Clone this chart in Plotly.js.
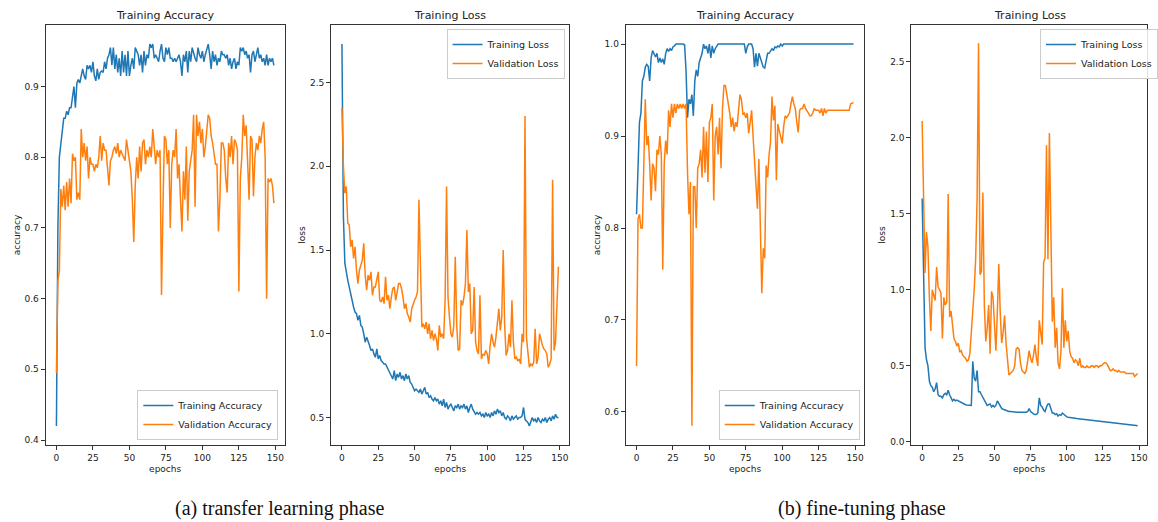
<!DOCTYPE html>
<html><head><meta charset="utf-8">
<script src="https://cdn.plot.ly/plotly-3.0.1.min.js"></script>
<style>html,body{margin:0;padding:0;background:#fff;}#chart{width:1158px;height:522px;}</style>
</head><body><div id="chart"></div>
<script>
// (a) transfer learning phase
const trainAccA = [
0.42,0.70,0.80,0.82,0.84,0.855,0.855,0.865,0.86,0.87,
0.87,0.89,0.90,0.87,0.905,0.91,0.905,0.915,0.925,0.915,
0.91,0.93,0.925,0.93,0.92,0.935,0.915,0.908,0.925,0.91,
0.92,0.922,0.92,0.935,0.925,0.94,0.945,0.955,0.93,0.955,
0.925,0.945,0.92,0.94,0.915,0.95,0.92,0.945,0.915,0.95,
0.915,0.93,0.94,0.925,0.955,0.95,0.945,0.93,0.945,0.92,
0.95,0.93,0.945,0.94,0.96,0.955,0.96,0.94,0.945,0.94,
0.935,0.95,0.96,0.94,0.935,0.955,0.945,0.955,0.94,0.94,
0.935,0.94,0.935,0.94,0.945,0.935,0.915,0.945,0.935,0.95,
0.92,0.95,0.935,0.955,0.945,0.94,0.935,0.955,0.945,0.94,
0.95,0.935,0.945,0.955,0.96,0.945,0.925,0.95,0.935,0.945,
0.93,0.94,0.935,0.95,0.945,0.945,0.94,0.945,0.93,0.94,
0.925,0.935,0.94,0.925,0.935,0.93,0.955,0.95,0.955,0.945,
0.95,0.94,0.945,0.92,0.945,0.95,0.935,0.945,0.955,0.94,
0.945,0.935,0.94,0.93,0.945,0.93,0.94,0.935,0.94,0.93];
const valAccA = [
0.495,0.625,0.64,0.755,0.73,0.76,0.725,0.765,0.73,0.77,
0.735,0.805,0.795,0.80,0.74,0.75,0.74,0.84,0.80,0.82,
0.795,0.815,0.77,0.80,0.79,0.79,0.78,0.79,0.785,0.80,
0.83,0.795,0.82,0.81,0.81,0.79,0.76,0.795,0.80,0.81,
0.815,0.805,0.82,0.80,0.81,0.805,0.80,0.795,0.825,0.81,
0.80,0.78,0.74,0.68,0.76,0.80,0.77,0.815,0.78,0.82,
0.825,0.79,0.81,0.80,0.815,0.80,0.84,0.82,0.79,0.81,
0.80,0.81,0.605,0.73,0.83,0.825,0.79,0.81,0.70,0.79,
0.81,0.80,0.84,0.77,0.79,0.74,0.695,0.78,0.74,0.815,
0.71,0.78,0.80,0.81,0.86,0.73,0.86,0.83,0.85,0.82,
0.84,0.80,0.815,0.84,0.86,0.855,0.83,0.82,0.80,0.79,
0.79,0.695,0.74,0.82,0.82,0.81,0.77,0.75,0.82,0.80,
0.83,0.79,0.825,0.82,0.81,0.61,0.77,0.80,0.86,0.83,
0.845,0.80,0.74,0.83,0.825,0.745,0.80,0.82,0.81,0.83,
0.82,0.84,0.85,0.80,0.60,0.77,0.765,0.77,0.76,0.735];
const trainLossA = [
2.73,1.70,1.42,1.36,1.32,1.28,1.24,1.18,1.16,1.13,
1.12,1.08,1.11,1.05,1.04,1.00,0.95,0.98,0.96,0.93,
0.90,0.91,0.88,0.86,0.91,0.85,0.87,0.84,0.83,0.82,
0.82,0.80,0.79,0.77,0.75,0.73,0.78,0.72,0.76,0.74,
0.77,0.73,0.75,0.72,0.76,0.73,0.75,0.71,0.70,0.68,
0.66,0.67,0.66,0.65,0.67,0.64,0.66,0.68,0.64,0.65,
0.62,0.63,0.61,0.60,0.62,0.60,0.61,0.58,0.60,0.57,
0.61,0.56,0.59,0.55,0.57,0.58,0.56,0.54,0.57,0.56,
0.58,0.55,0.57,0.56,0.58,0.55,0.57,0.53,0.56,0.58,
0.55,0.53,0.52,0.53,0.52,0.53,0.51,0.52,0.50,0.53,
0.51,0.52,0.50,0.53,0.51,0.54,0.52,0.55,0.53,0.54,
0.51,0.53,0.50,0.49,0.51,0.50,0.48,0.51,0.49,0.50,
0.51,0.49,0.50,0.50,0.51,0.56,0.49,0.48,0.47,0.45,
0.47,0.50,0.48,0.49,0.47,0.50,0.48,0.47,0.49,0.48,
0.50,0.47,0.49,0.50,0.48,0.51,0.49,0.52,0.50,0.50];
const valLossA = [
2.35,2.00,1.84,1.88,1.66,1.65,1.52,1.56,1.45,1.52,
1.38,1.30,1.38,1.42,1.44,1.54,1.35,1.26,1.35,1.32,
1.37,1.23,1.28,1.28,1.33,1.37,1.20,1.19,1.22,1.18,
1.34,1.20,1.23,1.15,1.22,1.27,1.28,1.20,1.25,1.30,
1.30,1.27,1.22,1.15,1.18,1.12,1.10,1.07,1.15,1.18,
1.20,1.22,1.25,1.80,1.30,1.04,1.06,1.03,1.07,1.00,
1.06,0.97,1.02,0.96,1.00,0.97,0.90,1.05,0.98,1.00,
0.97,1.20,1.88,1.22,1.10,1.00,0.98,1.05,1.46,1.05,
0.90,0.91,1.20,1.17,1.22,1.30,1.62,1.25,1.30,1.00,
1.02,1.28,0.95,0.90,0.88,1.23,0.85,0.88,0.87,0.90,
0.88,0.82,0.93,1.00,0.95,0.92,0.98,1.05,1.15,1.02,
1.10,1.50,1.05,0.87,0.90,1.00,0.92,1.20,0.95,0.85,
0.86,0.84,0.85,0.82,1.00,0.95,2.30,0.98,0.88,0.80,
0.82,0.81,0.83,1.03,0.82,0.86,1.00,0.96,0.93,0.91,
0.90,0.88,0.80,0.82,0.85,1.92,0.90,0.95,1.15,1.40];
// (b) fine-tuning phase
const trainAccB = [
0.815,0.88,0.915,0.925,0.96,0.965,0.975,0.978,0.976,0.96,
0.985,0.993,0.99,0.986,0.99,0.98,0.985,0.98,0.984,0.978,
0.99,0.995,0.992,0.995,0.993,0.997,0.998,1,1,1,
1,1,1,0.999,0.97,0.92,0.94,0.935,0.945,0.922,
0.96,0.972,0.965,0.98,0.985,0.99,1,0.995,0.998,0.99,
1,0.985,0.998,0.99,0.995,0.998,1,1,1,1,
1,1,1,1,1,1,1,1,1,1,
1,1,1,1,1,0.99,0.997,1,1,1,
0.995,0.975,0.99,0.976,0.99,0.986,0.98,0.975,0.974,0.982,
0.99,0.99,0.993,0.995,0.993,0.997,0.996,0.998,0.997,1,
0.998,1,1,1,1,1,1,1,1,1,
1,1,1,1,1,1,1,1,1,1,
1,1,1,1,1,1,1,1,1,1,
1,1,1,1,1,1,1,1,1,1,
1,1,1,1,1,1,1,1,1,1];
const valAccB = [
0.65,0.81,0.815,0.80,0.80,0.88,0.94,0.89,0.90,0.87,
0.83,0.87,0.865,0.84,0.885,0.88,0.90,0.88,0.755,0.87,
0.895,0.88,0.928,0.91,0.935,0.92,0.935,0.925,0.935,0.93,
0.935,0.93,0.935,0.93,0.935,0.86,0.815,0.85,0.585,0.845,
0.845,0.80,0.865,0.87,0.885,0.855,0.91,0.86,0.905,0.85,
0.915,0.92,0.935,0.83,0.90,0.91,0.88,0.92,0.865,0.93,
0.955,0.955,0.945,0.94,0.925,0.91,0.92,0.905,0.915,0.91,
0.925,0.945,0.94,0.924,0.925,0.92,0.925,0.903,0.915,0.928,
0.90,0.875,0.85,0.821,0.875,0.80,0.729,0.778,0.767,0.868,
0.855,0.88,0.894,0.943,0.917,0.933,0.852,0.913,0.905,0.90,
0.892,0.91,0.922,0.92,0.922,0.925,0.935,0.943,0.935,0.93,
0.915,0.904,0.928,0.93,0.93,0.935,0.93,0.928,0.925,0.922,
0.922,0.925,0.93,0.928,0.928,0.928,0.925,0.93,0.922,0.93,
0.925,0.928,0.928,0.928,0.928,0.928,0.928,0.928,0.928,0.928,
0.928,0.928,0.928,0.928,0.928,0.928,0.928,0.935,0.936,0.936];
const trainLossB = [
1.60,0.95,0.62,0.54,0.50,0.40,0.37,0.36,0.33,0.35,
0.39,0.31,0.30,0.30,0.29,0.31,0.32,0.31,0.34,0.31,
0.29,0.27,0.28,0.27,0.275,0.27,0.26,0.255,0.25,0.245,
0.245,0.243,0.242,0.24,0.24,0.53,0.42,0.40,0.47,0.33,
0.33,0.31,0.29,0.27,0.25,0.24,0.245,0.25,0.23,0.24,
0.23,0.24,0.27,0.25,0.23,0.22,0.215,0.21,0.205,0.205,
0.20,0.20,0.20,0.198,0.197,0.196,0.196,0.195,0.195,0.194,
0.193,0.192,0.195,0.20,0.22,0.20,0.19,0.185,0.18,0.18,
0.19,0.29,0.24,0.23,0.21,0.20,0.23,0.25,0.25,0.21,
0.19,0.19,0.18,0.185,0.17,0.18,0.175,0.19,0.18,0.17,
0.165,0.162,0.16,0.158,0.157,0.156,0.155,0.154,0.153,0.152,
0.151,0.150,0.149,0.148,0.147,0.146,0.145,0.144,0.143,0.142,
0.141,0.140,0.139,0.138,0.137,0.136,0.135,0.134,0.133,0.132,
0.131,0.130,0.129,0.128,0.127,0.126,0.125,0.124,0.122,0.121,
0.120,0.119,0.118,0.116,0.115,0.114,0.112,0.110,0.108,0.106];
const valLossB = [
2.11,1.45,1.11,1.38,1.28,0.95,0.73,1.00,0.97,0.93,
1.15,1.02,1.00,0.98,0.68,0.95,0.90,0.92,1.63,0.82,
0.86,0.78,0.68,0.66,0.63,0.65,0.59,0.60,0.57,0.56,
0.55,0.53,0.54,0.58,0.70,0.83,1.00,1.20,1.60,2.62,
1.10,1.12,1.64,0.90,0.66,0.75,0.90,0.58,0.99,0.95,
0.75,0.60,0.85,1.17,0.85,0.65,0.72,0.83,0.65,0.55,
0.44,0.45,0.46,0.47,0.50,0.61,0.62,0.61,0.52,0.47,
0.46,0.45,0.47,0.55,0.60,0.55,0.52,0.57,0.64,0.55,
0.50,0.80,0.70,0.64,1.18,1.21,1.95,1.20,2.03,1.25,
0.79,0.95,0.62,0.75,0.52,0.48,0.60,1.01,0.62,0.80,
0.66,0.73,0.60,0.56,0.55,0.52,0.54,0.53,0.50,0.55,
0.49,0.50,0.49,0.49,0.50,0.49,0.49,0.50,0.50,0.49,
0.50,0.50,0.49,0.50,0.50,0.51,0.52,0.52,0.51,0.49,
0.47,0.47,0.48,0.47,0.47,0.46,0.47,0.46,0.46,0.46,
0.46,0.45,0.45,0.45,0.45,0.45,0.45,0.43,0.44,0.45];

const xTicks = [0,25,50,75,100,125,150];
const yTicksAccA = [0.4,0.5,0.6,0.7,0.8,0.9];
const yTicksLossA = [0.5,1.0,1.5,2.0,2.5];
const yTicksAccB = [0.6,0.7,0.8,0.9,1.0];
const yTicksLossB = [0.0,0.5,1.0,1.5,2.0,2.5];
const panelTitles = ['Training Accuracy','Training Loss','Training Accuracy','Training Loss'];
const captions = ['(a) transfer learning phase','(b) fine-tuning phase'];

const epochs = trainAccA.map((_, i) => i);
const BLUE = '#1f77b4', ORANGE = '#ff7f0e';
const W = 1158, H = 522;

function tr(y, name, color, n) {
  return {x: epochs, y: y, name: name, type: 'scatter', mode: 'lines',
    line: {color: color, width: 1.5}, xaxis: 'x' + (n > 1 ? n : ''), yaxis: 'y' + (n > 1 ? n : ''),
    legend: 'legend' + (n > 1 ? n : ''), hoverinfo: 'skip'};
}
const data = [
  tr(trainAccA, 'Training Accuracy', BLUE, 1), tr(valAccA, 'Validation Accuracy', ORANGE, 1),
  tr(trainLossA, 'Training Loss', BLUE, 2), tr(valLossA, 'Validation Loss', ORANGE, 2),
  tr(trainAccB, 'Training Accuracy', BLUE, 3), tr(valAccB, 'Validation Accuracy', ORANGE, 3),
  tr(trainLossB, 'Training Loss', BLUE, 4), tr(valLossB, 'Validation Loss', ORANGE, 4)
];

const TXT = '#222';
const common = {ticks: 'outside', ticklen: 4, tickwidth: 1, tickcolor: '#333', showline: true, mirror: true,
  linecolor: '#333', linewidth: 1, showgrid: false, zeroline: false, automargin: false, fixedrange: true,
  tickfont: {size: 9, color: TXT}};
function xax(l, r, range, n) {
  return Object.assign({}, common, {domain: [l / W, r / W], range: range, anchor: 'y' + (n > 1 ? n : ''),
    tickmode: 'array', tickvals: xTicks, title: {text: 'epochs', font: {size: 9, color: TXT}, standoff: 3}});
}
function yax(range, ticks, label, n) {
  return Object.assign({}, common, {domain: [1 - 445 / H, 1 - 25 / H], range: range, anchor: 'x' + (n > 1 ? n : ''),
    tickmode: 'array', tickvals: ticks, tickformat: '.1f', title: {text: label, font: {size: 9, color: TXT}, standoff: 2}});
}
const legBase = {bgcolor: 'rgba(255,255,255,0.85)', bordercolor: '#cccccc', borderwidth: 1,
  font: {size: 9.5, color: TXT}, traceorder: 'normal'};
const panelCenters = [(46 + 287.5) / 2, (334.3 + 574.7) / 2, (631.7 + 872.7) / 2, (920 + 1159) / 2];
const annotations = panelTitles.map((t, i) => ({text: t, x: panelCenters[i] / W, y: 1 - 15 / H,
  xref: 'paper', yref: 'paper', xanchor: 'center', yanchor: 'middle', showarrow: false,
  font: {size: 11, color: TXT}}));
[282, 870].forEach((cx, i) => annotations.push({text: captions[i], x: cx / W, y: 1 - 508 / H,
  xref: 'paper', yref: 'paper', xanchor: 'center', yanchor: 'middle', showarrow: false,
  font: {family: 'Liberation Serif, serif', size: 20, color: '#111'}}));

const layout = {
  width: W, height: H, margin: {l: 0, r: 0, t: 0, b: 0},
  paper_bgcolor: '#fff', plot_bgcolor: '#fff',
  font: {family: 'DejaVu Sans, sans-serif', size: 9, color: TXT},
  showlegend: true,
  xaxis: xax(46, 287.5, [-7.45, 156.45], 1),
  yaxis: yax([0.393, 0.987], yTicksAccA, 'accuracy', 1),
  xaxis2: xax(334.3, 574.7, [-7.45, 156.45], 2),
  yaxis2: yax([0.336, 2.844], yTicksLossA, 'loss', 2),
  xaxis3: xax(631.7, 872.7, [-7.45, 156.45], 3),
  yaxis3: yax([0.564, 1.0208], yTicksAccB, 'accuracy', 3),
  xaxis4: xax(920, 1158, [-7.53, 155.5], 4),
  yaxis4: yax([-0.02, 2.74], yTicksLossB, 'loss', 4),
  legend: Object.assign({}, legBase, {x: 281 / W, xanchor: 'right', y: 1 - 440 / H, yanchor: 'bottom'}),
  legend2: Object.assign({}, legBase, {x: 570 / W, xanchor: 'right', y: 1 - 29 / H, yanchor: 'top'}),
  legend3: Object.assign({}, legBase, {x: 868 / W, xanchor: 'right', y: 1 - 440 / H, yanchor: 'bottom'}),
  legend4: Object.assign({}, legBase, {x: 1050 / W, xanchor: 'left', y: 1 - 29 / H, yanchor: 'top'}),
  annotations: annotations
};
Plotly.newPlot('chart', data, layout, {displayModeBar: false, staticPlot: true});
</script></body></html>
